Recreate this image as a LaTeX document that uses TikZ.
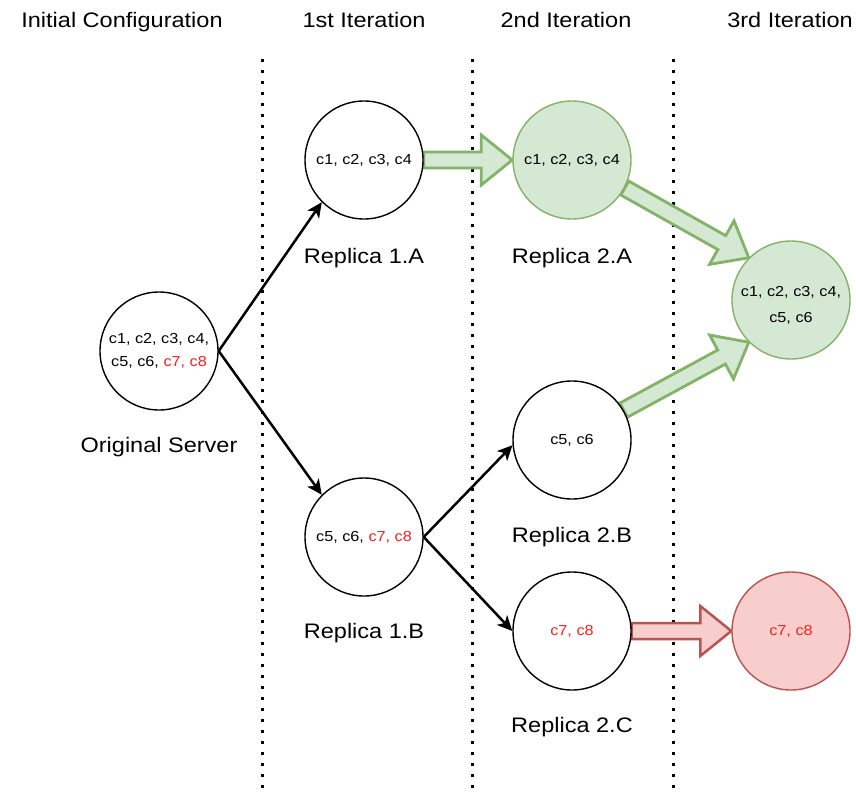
\documentclass[tikz,border=0pt]{standalone}
\usepackage{fontspec}
\setmainfont[FakeStretch=1.12]{Liberation Sans}
\usetikzlibrary{arrows.meta,calc}

\definecolor{gfill}{HTML}{D5E8D4}
\definecolor{gline}{HTML}{82B366}
\definecolor{rfill}{HTML}{F8CECC}
\definecolor{rline}{HTML}{B85450}
\definecolor{ctext}{HTML}{FF1F1F}

% wide arrow with a triangular head, from #2 to #3, styled by #1
\newcommand{\blockarrow}[3]{%
  \coordinate (ba-s) at (#2);
  \coordinate (ba-e) at (#3);
  \coordinate (ba-h) at ($(ba-e)!31pt!(ba-s)$);
  \draw[#1] ($(ba-s)!8pt!90:(ba-e)$) -- ($(ba-h)!8pt!90:(ba-e)$)
    -- ($(ba-h)!25pt!90:(ba-e)$) -- (ba-e)
    -- ($(ba-h)!25pt!-90:(ba-e)$) -- ($(ba-h)!8pt!-90:(ba-e)$)
    -- ($(ba-s)!8pt!-90:(ba-e)$) -- cycle;}

\begin{document}
\begin{tikzpicture}[x=1pt,y=-1pt,
  server/.style={circle, draw=black, line width=1.4pt, fill=white,
    minimum size=118pt, inner sep=0pt, align=center,
    font=\fontsize{14.5}{23}\selectfont},
  merged/.style={server, draw=gline, fill=gfill},
  lost/.style={server, draw=rline, fill=rfill},
  caption/.style={anchor=base, font=\fontsize{21}{25}\selectfont},
  flow/.style={line width=2.5pt, -{Stealth[length=15pt,width=14pt,inset=4pt]}},
  divider/.style={line width=3pt, dash pattern=on 3pt off 8pt},
  keepg/.style={draw=gline, fill=gfill, line width=2.8pt},
  keepr/.style={draw=rline, fill=rfill, line width=2.5pt}]

\fill[white] (0,0) rectangle (856,792);
\useasboundingbox (0,0) rectangle (856,792);

% phase headings
\node[caption] (h0) at (122,28) {Initial Configuration};
\node[caption] (h1) at (364,28) {1st Iteration};
\node[caption] (h2) at (566,28) {2nd Iteration};
\node[caption] (h3) at (790,28) {3rd Iteration};

% phase separators
\foreach \i/\x in {1/262,2/472,3/673}{
  \coordinate (top\i) at (\x,59);
  \coordinate (bot\i) at (\x,792);
  \draw[divider] (top\i) -- (bot\i);
}

% server positions
\path
  (159,351) coordinate (porig)
  (364,160) coordinate (p1a)
  (364,537) coordinate (p1b)
  (572,160) coordinate (p2a)
  (572,440) coordinate (p2b)
  (572,631) coordinate (p2c)
  (791,300) coordinate (p3)
  (791,631) coordinate (plost);

% invisible outlines giving anchors for the block arrows underneath the circles
\path
  (p1a) node[server, draw=none, fill=none] (a1a) {}
  (p2a) node[server, draw=none, fill=none] (a2a) {}
  (p2b) node[server, draw=none, fill=none] (a2b) {}
  (p2c) node[server, draw=none, fill=none] (a2c) {}
  (p3) node[server, draw=none, fill=none] (a3) {}
  (plost) node[server, draw=none, fill=none] (alost) {};

\blockarrow{keepg}{a1a.east}{a2a.west}
\blockarrow{keepg}{a2a.-28}{a3.135}
\blockarrow{keepg}{a2b.30}{a3.225}
\blockarrow{keepr}{a2c.east}{alost.west}

\node[server] (orig) at (porig) {c1, c2, c3, c4,\\ c5, c6, \textcolor{ctext}{c7, c8}};
\node[server] (r1a) at (p1a) {c1, c2, c3, c4};
\node[server] (r1b) at (p1b) {c5, c6, \textcolor{ctext}{c7, c8}};
\node[merged] (r2a) at (p2a) {c1, c2, c3, c4};
\node[server] (r2b) at (p2b) {c5, c6};
\node[server] (r2c) at (p2c) {\textcolor{ctext}{c7, c8}};
\node[merged, label={[align=center, yshift=-5pt,
    font=\fontsize{14.5}{23}\selectfont]center:{c1, c2, c3, c4,\\[3pt] c5, c6}}]
  (r3) at (p3) {};
\node[lost] (lost) at (plost) {\textcolor{ctext}{c7, c8}};

% captions
\node[caption] (lorig) at (159,452) {Original Server};
\node[caption] (l1a) at (364,263) {Replica 1.A};
\node[caption] (l1b) at (364,638) {Replica 1.B};
\node[caption] (l2a) at (572,263) {Replica 2.A};
\node[caption] (l2b) at (572,542) {Replica 2.B};
\node[caption] (l2c) at (572,732) {Replica 2.C};

% splitting
\draw[flow] (orig.east) -- (r1a.225);
\draw[flow] (orig.east) -- (r1b.135);
\draw[flow] (r1b.east) -- (r2b.185);
\draw[flow] (r1b.east) -- (r2c.west);
\end{tikzpicture}
\end{document}
